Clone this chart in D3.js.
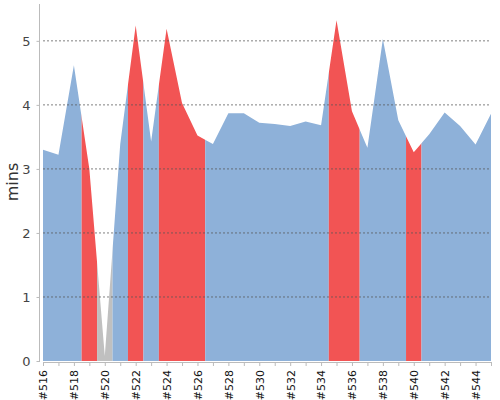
<!DOCTYPE html>
<html>
<head>
<meta charset="utf-8">
<script src="https://cdn.jsdelivr.net/npm/d3@7"></script>
<style>
  body { margin: 0; background: #fff; }
  svg { font-family: "DejaVu Sans", sans-serif; }
</style>
</head>
<body>
<svg class="chart"></svg>
<script>
var svgWidth = 500,
    svgHeight = 400,
    margin = {top: 5, right: 9, bottom: 39, left: 43},
    width = svgWidth - margin.left - margin.right,
    height = svgHeight - margin.top - margin.bottom;

// build numbers along the x axis
var builds = [516, 517, 518, 519, 520, 521, 522, 523, 524, 525,
              526, 527, 528, 529, 530, 531, 532, 533, 534, 535,
              536, 537, 538, 539, 540, 541, 542, 543, 544, 545];

// duration in minutes
var minutes = [3.30, 3.22, 4.62, 3.00, 0.08, 3.39, 5.24, 3.43, 5.19, 4.03,
               3.52, 3.39, 3.87, 3.87, 3.72, 3.70, 3.67, 3.74, 3.68, 5.32,
               3.90, 3.33, 5.03, 3.76, 3.26, 3.54, 3.88, 3.67, 3.38, 3.86];

// build result per point (note: "status" is taken by window.status)
var results = ['ok', 'ok', 'ok', 'fail', 'none', 'ok', 'fail', 'ok', 'fail', 'fail',
               'fail', 'ok', 'ok', 'ok', 'ok', 'ok', 'ok', 'ok', 'ok', 'fail',
               'fail', 'ok', 'ok', 'ok', 'fail', 'ok', 'ok', 'ok', 'ok', 'ok'];

var yTicks = [0, 1, 2, 3, 4, 5];

var colors = {ok: '#8eb1d9', fail: '#f25454', none: '#c0c0c0'};

var data = builds.map(function(b, i) { return {i: i, build: b, value: minutes[i], result: results[i]}; });

var xScale = d3.scaleLinear().domain([0, builds.length - 1]).range([0, width]);
var yScale = d3.scaleLinear().domain([0, 5.56]).range([height, 0]);

var svg = d3.select('.chart')
    .attr('width', svgWidth)
    .attr('height', svgHeight);

var g = svg.append('g')
    .attr('transform', 'translate(' + margin.left + ',' + margin.top + ')');

var area = d3.area()
    .x(function(d) { return xScale(d.i); })
    .y0(height)
    .y1(function(d) { return yScale(d.value); });

// group consecutive points with the same result into runs
var runs = [];
data.forEach(function(d) {
    var last = runs[runs.length - 1];
    if (last && last.result === d.result) last.end = d.i;
    else runs.push({result: d.result, start: d.i, end: d.i});
});

var defs = svg.append('defs');
runs.forEach(function(r, k) {
    var x0 = xScale(Math.max(r.start - 0.5, 0)),
        x1 = xScale(Math.min(r.end + 0.5, builds.length - 1));
    defs.append('clipPath').attr('id', 'run' + k)
        .append('rect')
        .attr('x', x0).attr('y', -margin.top)
        .attr('width', x1 - x0).attr('height', height + margin.top);
});

g.selectAll('.band')
    .data(runs)
    .enter().append('path')
        .attr('class', 'band')
        .attr('d', area(data))
        .attr('fill', function(r) { return colors[r.result]; })
        .attr('clip-path', function(r, k) { return 'url(#run' + k + ')'; });

// dashed grid lines over the area
g.selectAll('.grid')
    .data(yTicks.filter(function(t) { return t > 0; }))
    .enter().append('line')
        .attr('class', 'grid')
        .attr('x1', 0).attr('x2', width)
        .attr('y1', function(t) { return yScale(t); })
        .attr('y2', function(t) { return yScale(t); })
        .attr('stroke', '#555')
        .attr('stroke-opacity', 0.75)
        .attr('stroke-dasharray', '2,2');

// y axis, a little left of the plot
var yAxis = d3.axisLeft(yScale).tickValues(yTicks).tickFormat(d3.format('d'))
    .tickSize(3).tickSizeOuter(0).tickPadding(6);
var ya = g.append('g')
    .attr('transform', 'translate(-3.5,0)')
    .call(yAxis);
ya.select('.domain').attr('stroke', '#bbb').attr('d', 'M0,-1V' + (height + 1));
ya.selectAll('.tick line').attr('stroke', '#bbb');
ya.selectAll('text').attr('font-size', 13).attr('fill', '#444')
    .attr('font-family', '"DejaVu Sans", sans-serif');

// x axis: a tick for every build, a label for every other
var xAxis = d3.axisBottom(xScale)
    .tickValues(d3.range(builds.length))
    .tickFormat(function(i) { return i % 2 === 0 ? '#' + builds[i] : ''; })
    .tickSize(4).tickSizeOuter(0);
var xa = g.append('g')
    .attr('transform', 'translate(0,' + (height + 1) + ')')
    .call(xAxis);
xa.select('.domain').attr('stroke', '#bbb');
xa.selectAll('.tick line').attr('stroke', '#bbb');
xa.selectAll('text')
    .attr('font-size', 11)
    .attr('fill', '#111')
    .attr('font-family', '"DejaVu Sans", sans-serif')
    .attr('text-anchor', 'end')
    .attr('transform', 'rotate(-90)')
    .attr('x', -8)
    .attr('y', 0)
    .attr('dy', '0.35em');

svg.append('text')
    .attr('transform', 'translate(18,182) rotate(-90)')
    .attr('text-anchor', 'middle')
    .attr('font-size', 16)
    .attr('fill', '#333')
    .text('mins');
</script>
</body>
</html>
